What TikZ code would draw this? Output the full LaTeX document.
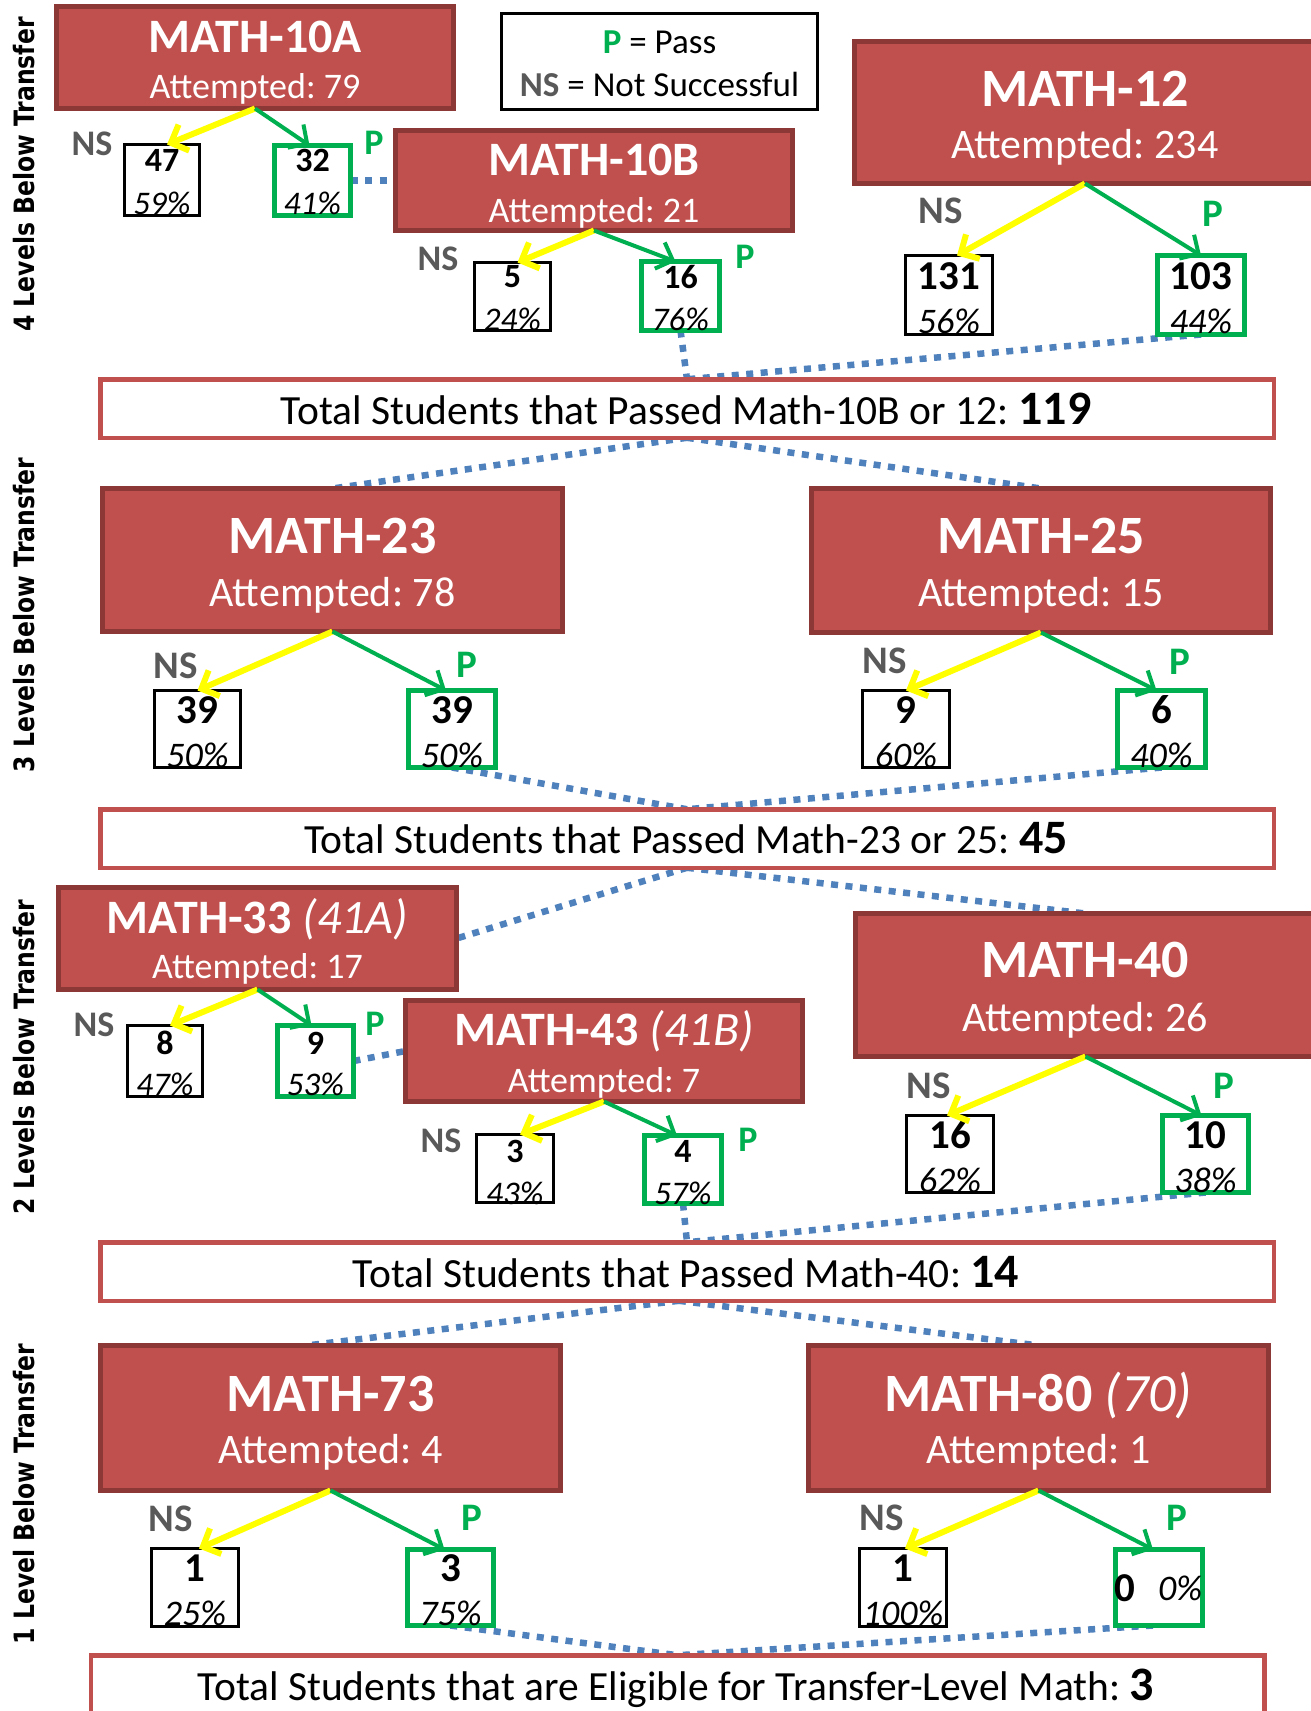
\documentclass[tikz,border=0pt]{standalone}
\usepackage{fontspec}
\usepackage{graphicx}
\setmainfont{Carlito}
\newfontfamily\lvlfont{DejaVu Sans}
\usetikzlibrary{arrows.meta}
\definecolor{redfill}{HTML}{C0504D}
\definecolor{redborder}{HTML}{8C3836}
\definecolor{pgreen}{HTML}{00B050}
\definecolor{nsgray}{HTML}{595959}
\definecolor{dotblue}{HTML}{4F81BD}
\definecolor{nsyellow}{HTML}{FFFF00}
\pgfdeclarelayer{bg}
\pgfsetlayers{bg,main}
\frenchspacing
\tikzset{
  redbox/.style={draw=redborder, fill=redfill, line width=5pt, inner sep=0pt, outer sep=0pt},
  totbox/.style={draw=redfill, fill=white, line width=4.5pt, inner sep=0pt, outer sep=0pt, minimum width=1173.5pt, minimum height=58.5pt},
  nsbox/.style={draw=black, fill=white, line width=3pt, inner sep=0pt, outer sep=0pt},
  pbox/.style={draw=pgreen, fill=white, line width=5pt, inner sep=0pt, outer sep=0pt},
  legbox/.style={draw=black, fill=white, line width=3pt, inner sep=0pt, outer sep=0pt},
  ttlL/.style={font=\fontsize{54}{54}\selectfont\bfseries, text=white, anchor=base, inner sep=0pt},
  ttlS/.style={font=\fontsize{48}{48}\selectfont\bfseries, text=white, anchor=base, inner sep=0pt},
  attL/.style={font=\fontsize{42}{42}\selectfont, text=white, anchor=base, inner sep=0pt},
  attS/.style={font=\fontsize{36}{36}\selectfont, text=white, anchor=base, inner sep=0pt},
  numL/.style={font=\fontsize{41}{41}\selectfont\bfseries, inner sep=0pt},
  pctL/.style={font=\fontsize{36}{36}\selectfont\itshape, inner sep=0pt},
  numS/.style={font=\fontsize{34}{34}\selectfont\bfseries, inner sep=0pt},
  pctS/.style={font=\fontsize{33}{33}\selectfont\itshape, inner sep=0pt},
  nslblL/.style={font=\fontsize{39}{39}\selectfont\bfseries, text=nsgray, inner sep=0pt},
  plblL/.style={font=\fontsize{39}{39}\selectfont\bfseries, text=pgreen, inner sep=0pt},
  nslblS/.style={font=\fontsize{36}{36}\selectfont\bfseries, text=nsgray, inner sep=0pt},
  plblS/.style={font=\fontsize{36}{36}\selectfont\bfseries, text=pgreen, inner sep=0pt},
  tottext/.style={font=\fontsize{41.5}{41.5}\selectfont, anchor=base, inner sep=0pt},
  lvltext/.style={font=\lvlfont\bfseries\fontsize{28}{28}\selectfont, rotate=90, inner sep=0pt},
  legtext/.style={font=\fontsize{35}{35}\selectfont, anchor=base, inner sep=0pt},
  bluedots/.style={draw=dotblue, line width=6.5pt, dash pattern=on 7pt off 7.5pt},
  nsarrow/.style={draw=nsyellow, line width=6pt, -{Straight Barb[length=14pt,width=28pt]}},
  parrow/.style={draw=pgreen, line width=4pt, -{Straight Barb[length=14pt,width=28pt]}},
}
\newcommand{\bignum}[1]{{\bfseries\fontsize{48}{48}\selectfont #1}}
\begin{document}
\begin{tikzpicture}[x=1pt,y=-1pt]
\clip (0,0) rectangle (1311,1711);

% level labels
\node[lvltext] (lv4) at (24,174.5) {\scalebox{0.84}[1]{4 Levels Below Transfer}};
\node[lvltext] (lv3) at (24,615) {\scalebox{0.84}[1]{3 Levels Below Transfer}};
\node[lvltext] (lv2) at (24,1057) {\scalebox{0.84}[1]{2 Levels Below Transfer}};
\node[lvltext] (lv1) at (24,1494) {\scalebox{0.84}[1]{1 Level Below Transfer}};

% legend
\node[legbox, minimum width=316pt, minimum height=96pt] (leg) at (659.5,61.5) {};
\node[legtext] (legp) at (659.5,53) {{\bfseries\color{pgreen}P} = Pass};
\node[legtext] (legns) at (659.5,96) {{\bfseries\color{nsgray}NS} = Not Successful};

% course boxes
\node[redbox, minimum width=397pt, minimum height=102pt] (m10a) at (255,57.5) {};
\node[redbox, minimum width=397pt, minimum height=100pt] (m10b) at (594,180.5) {};
\node[redbox, minimum width=461pt, minimum height=142pt] (m12) at (1085,112.5) {};
\node[redbox, minimum width=460pt, minimum height=143pt] (m23) at (332.5,560) {};
\node[redbox, minimum width=459pt, minimum height=144pt] (m25) at (1041,560.5) {};
\node[redbox, minimum width=398pt, minimum height=102pt] (m33) at (257.5,938.5) {};
\node[redbox, minimum width=397pt, minimum height=101pt] (m43) at (604,1051) {};
\node[redbox, minimum width=460pt, minimum height=143pt] (m40) at (1085.5,985) {};
\node[redbox, minimum width=460pt, minimum height=145pt] (m73) at (330.5,1418) {};
\node[redbox, minimum width=460pt, minimum height=145pt] (m80) at (1038.5,1418) {};

\node[ttlS] (m10at) at (255,52) {MATH-10A};
\node[attS] (m10aa) at (255,98) {Attempted: 79};
\node[ttlS] (m10bt) at (594,175) {MATH-10B};
\node[attS] (m10ba) at (594,222) {Attempted: 21};
\node[ttlL] (m12t) at (1085,106) {MATH-12};
\node[attL] (m12a) at (1085,158) {Attempted: 234};
\node[ttlL] (m23t) at (332.5,553) {MATH-23};
\node[attL] (m23a) at (332.5,606) {Attempted: 78};
\node[ttlL] (m25t) at (1041,553) {MATH-25};
\node[attL] (m25a) at (1041,606) {Attempted: 15};
\node[ttlS] (m33t) at (257.5,933) {MATH-33 {\mdseries\itshape (41A)}};
\node[attS] (m33a) at (257.5,978) {Attempted: 17};
\node[ttlS] (m43t) at (604,1045) {MATH-43 {\mdseries\itshape (41B)}};
\node[attS] (m43a) at (604,1092) {Attempted: 7};
\node[ttlL] (m40t) at (1085,977) {MATH-40};
\node[attL] (m40a) at (1085,1031) {Attempted: 26};
\node[ttlL] (m73t) at (330.5,1411) {MATH-73};
\node[attL] (m73a) at (330.5,1463) {Attempted: 4};
\node[ttlL] (m80t) at (1038.5,1411) {MATH-80 {\mdseries\itshape (70)}};
\node[attL] (m80a) at (1038.5,1463) {Attempted: 1};

% total boxes
\node[totbox] (t1) at (687,408.5) {};
\node[totbox] (t2) at (687,838.5) {};
\node[totbox] (t3) at (687,1271.5) {};
\node[totbox, minimum height=60.5pt] (t4) at (677.5,1685.5) {};
\node[tottext] (t1x) at (686,424) {Total Students that Passed Math-10B or 12: \bignum{119}};
\node[tottext] (t2x) at (686,853) {Total Students that Passed Math-23 or 25: \bignum{45}};
\node[tottext] (t3x) at (686,1287) {Total Students that Passed Math-40: \bignum{14}};
\node[tottext] (t4x) at (676,1700) {Total Students that are Eligible for Transfer-Level Math: \bignum{3}};

% outcome boxes
\node[nsbox, minimum width=75pt, minimum height=71pt] (b47) at (162,180) {};
\node[pbox, minimum width=76pt, minimum height=70pt] (b32) at (312.5,180.5) {};
\node[nsbox, minimum width=76pt, minimum height=68pt] (b5) at (512.5,296.5) {};
\node[pbox, minimum width=78pt, minimum height=69pt] (b16) at (680.5,296) {};
\node[nsbox, minimum width=87pt, minimum height=79pt] (b131) at (949,295) {};
\node[pbox, minimum width=87pt, minimum height=79pt] (b103) at (1201,295) {};
\node[nsbox, minimum width=86pt, minimum height=77pt] (b39n) at (197.5,729) {};
\node[pbox, minimum width=87pt, minimum height=77pt] (b39p) at (452,729) {};
\node[nsbox, minimum width=87pt, minimum height=77pt] (b9) at (906,729) {};
\node[pbox, minimum width=88pt, minimum height=77pt] (b6) at (1161.5,729) {};
\node[nsbox, minimum width=75pt, minimum height=71pt] (b8) at (165,1061) {};
\node[pbox, minimum width=76pt, minimum height=71pt] (b9p) at (315.5,1061) {};
\node[nsbox, minimum width=77pt, minimum height=68pt] (b3) at (515,1168.5) {};
\node[pbox, minimum width=77pt, minimum height=68pt] (b4) at (683,1169.5) {};
\node[nsbox, minimum width=87pt, minimum height=77pt] (b16b) at (950,1154) {};
\node[pbox, minimum width=86pt, minimum height=77pt] (b10) at (1205.5,1154) {};
\node[nsbox, minimum width=87pt, minimum height=78pt] (b1) at (195,1587.5) {};
\node[pbox, minimum width=86pt, minimum height=76pt] (b3b) at (450.5,1587.5) {};
\node[nsbox, minimum width=87pt, minimum height=78pt] (b1c) at (903,1587.5) {};
\node[pbox, minimum width=87pt, minimum height=76pt] (b0) at (1159,1587.5) {};

% numbers and percentages
\node[numS] (n47) at (162,160) {47};
\node[pctS] (q47) at (162,203) {59\%};
\node[numS] (n32) at (312.5,160) {32};
\node[pctS] (q32) at (312.5,203) {41\%};
\node[numS] (n5) at (512.5,277) {5};
\node[pctS] (q5) at (512.5,319) {24\%};
\node[numS] (n16) at (680.5,277) {16};
\node[pctS] (q16) at (680.5,319) {76\%};
\node[numL] (n131) at (949,276) {131};
\node[pctL] (q131) at (949,321) {56\%};
\node[numL] (n103) at (1201,276) {103};
\node[pctL] (q103) at (1201,321) {44\%};
\node[numL] (n39n) at (197.5,710) {39};
\node[pctL] (q39n) at (197.5,755) {50\%};
\node[numL] (n39p) at (452,710) {39};
\node[pctL] (q39p) at (452,755) {50\%};
\node[numL] (n9) at (906,710) {9};
\node[pctL] (q9) at (906,755) {60\%};
\node[numL] (n6) at (1161.5,710) {6};
\node[pctL] (q6) at (1161.5,755) {40\%};
\node[numS] (n8) at (165,1043) {8};
\node[pctS] (q8) at (165,1084) {47\%};
\node[numS] (n9p) at (315.5,1043) {9};
\node[pctS] (q9p) at (315.5,1084) {53\%};
\node[numS] (n3) at (515,1151) {3};
\node[pctS] (q3) at (515,1193) {43\%};
\node[numS] (n4) at (683,1151) {4};
\node[pctS] (q4) at (683,1193) {57\%};
\node[numL] (n16b) at (950,1135) {16};
\node[pctL] (q16b) at (950,1180) {62\%};
\node[numL] (n10) at (1205.5,1135) {10};
\node[pctL] (q10) at (1205.5,1180) {38\%};
\node[numL] (n1) at (195,1568) {1};
\node[pctL] (q1) at (195,1613) {25\%};
\node[numL] (n3b) at (450.5,1568) {3};
\node[pctL] (q3b) at (450.5,1613) {75\%};
\node[numL] (n1c) at (903,1568) {1};
\node[pctL] (q1c) at (903,1613) {100\%};
\node[numL] (n0) at (1125,1588) {0};
\node[pctL] (q0) at (1180,1588) {0\%};

% NS / P labels
\node[nslblS] (l10an) at (92,144) {NS};
\node[plblS] (l10ap) at (374,143) {P};
\node[nslblS] (l10bn) at (438,259) {NS};
\node[plblS] (l10bp) at (745,257) {P};
\node[nslblL] (l12n) at (941,211) {NS};
\node[plblL] (l12p) at (1213,214) {P};
\node[nslblL] (l23n) at (176,666) {NS};
\node[plblL] (l23p) at (467,665) {P};
\node[nslblL] (l25n) at (885,661) {NS};
\node[plblL] (l25p) at (1180,662) {P};
\node[nslblS] (l33n) at (94,1025) {NS};
\node[plblS] (l33p) at (375,1024) {P};
\node[nslblS] (l43n) at (441,1141) {NS};
\node[plblS] (l43p) at (748,1140) {P};
\node[nslblL] (l40n) at (929,1086) {NS};
\node[plblL] (l40p) at (1224,1086) {P};
\node[nslblL] (l73n) at (171,1519) {NS};
\node[plblL] (l73p) at (472,1518) {P};
\node[nslblL] (l80n) at (882,1518) {NS};
\node[plblL] (l80p) at (1177,1518) {P};

% outcome arrows
\draw[nsarrow] (m10a.south) -- ([xshift=5pt]b47.north);
\draw[parrow] (m10a.south) -- ([xshift=-3pt]b32.north);
\draw[nsarrow] (m10b.south) -- ([xshift=5pt]b5.north);
\draw[parrow] (m10b.south) -- ([xshift=-5pt]b16.north);
\draw[nsarrow] (m12.south) -- ([xshift=8pt]b131.north);
\draw[parrow] (m12.south) -- (b103.north);
\draw[nsarrow] (m23.south) -- (b39n.north);
\draw[parrow] (m23.south) -- ([xshift=-6pt]b39p.north);
\draw[nsarrow] (m25.south) -- (b9.north);
\draw[parrow] (m25.south) -- ([xshift=-5pt]b6.north);
\draw[nsarrow] (m33.south) -- ([xshift=5pt]b8.north);
\draw[parrow] (m33.south) -- ([xshift=-4pt]b9p.north);
\draw[nsarrow] (m43.south) -- ([xshift=5pt]b3.north);
\draw[parrow] (m43.south) -- ([xshift=-6pt]b4.north);
\draw[nsarrow] (m40.south) -- ([xshift=-3pt]b16b.north);
\draw[parrow] (m40.south) -- ([xshift=-4pt]b10.north);
\draw[nsarrow] (m73.south) -- ([xshift=4pt]b1.north);
\draw[parrow] (m73.south) -- ([xshift=-6pt]b3b.north);
\draw[nsarrow] (m80.south) -- ([xshift=2pt]b1c.north);
\draw[parrow] (m80.south) -- ([xshift=-6pt]b0.north);

% dotted flow connectors
\begin{pgfonlayer}{bg}
\fill[white] (0,0) rectangle (1311,1711);
\draw[bluedots] (b32.east) -- (m10b.west);
\draw[bluedots] (b16.south) -- (t1.north);
\draw[bluedots] (b103.south) -- (t1.north);
\draw[bluedots] (t1.south) -- (m23.north);
\draw[bluedots] (t1.south) -- (m25.north);
\draw[bluedots] (b39p.south) -- (t2.north);
\draw[bluedots] (b6.south) -- (t2.north);
\draw[bluedots] (t2.south) -- (m33.east);
\draw[bluedots] (t2.south) -- (m40.north);
\draw[bluedots] (b9p.east) -- (m43.west);
\draw[bluedots] (b4.south) -- (t3.north);
\draw[bluedots] (b10.south) -- (t3.north);
\draw[bluedots] ([xshift=-8pt]t3.south) -- ([xshift=-24pt]m73.north);
\draw[bluedots] ([xshift=-8pt]t3.south) -- (m80.north);
\draw[bluedots] (b3b.south) -- (t4.north);
\draw[bluedots] ([xshift=-6pt]b0.south) -- (t4.north);
\end{pgfonlayer}
\end{tikzpicture}
\end{document}
